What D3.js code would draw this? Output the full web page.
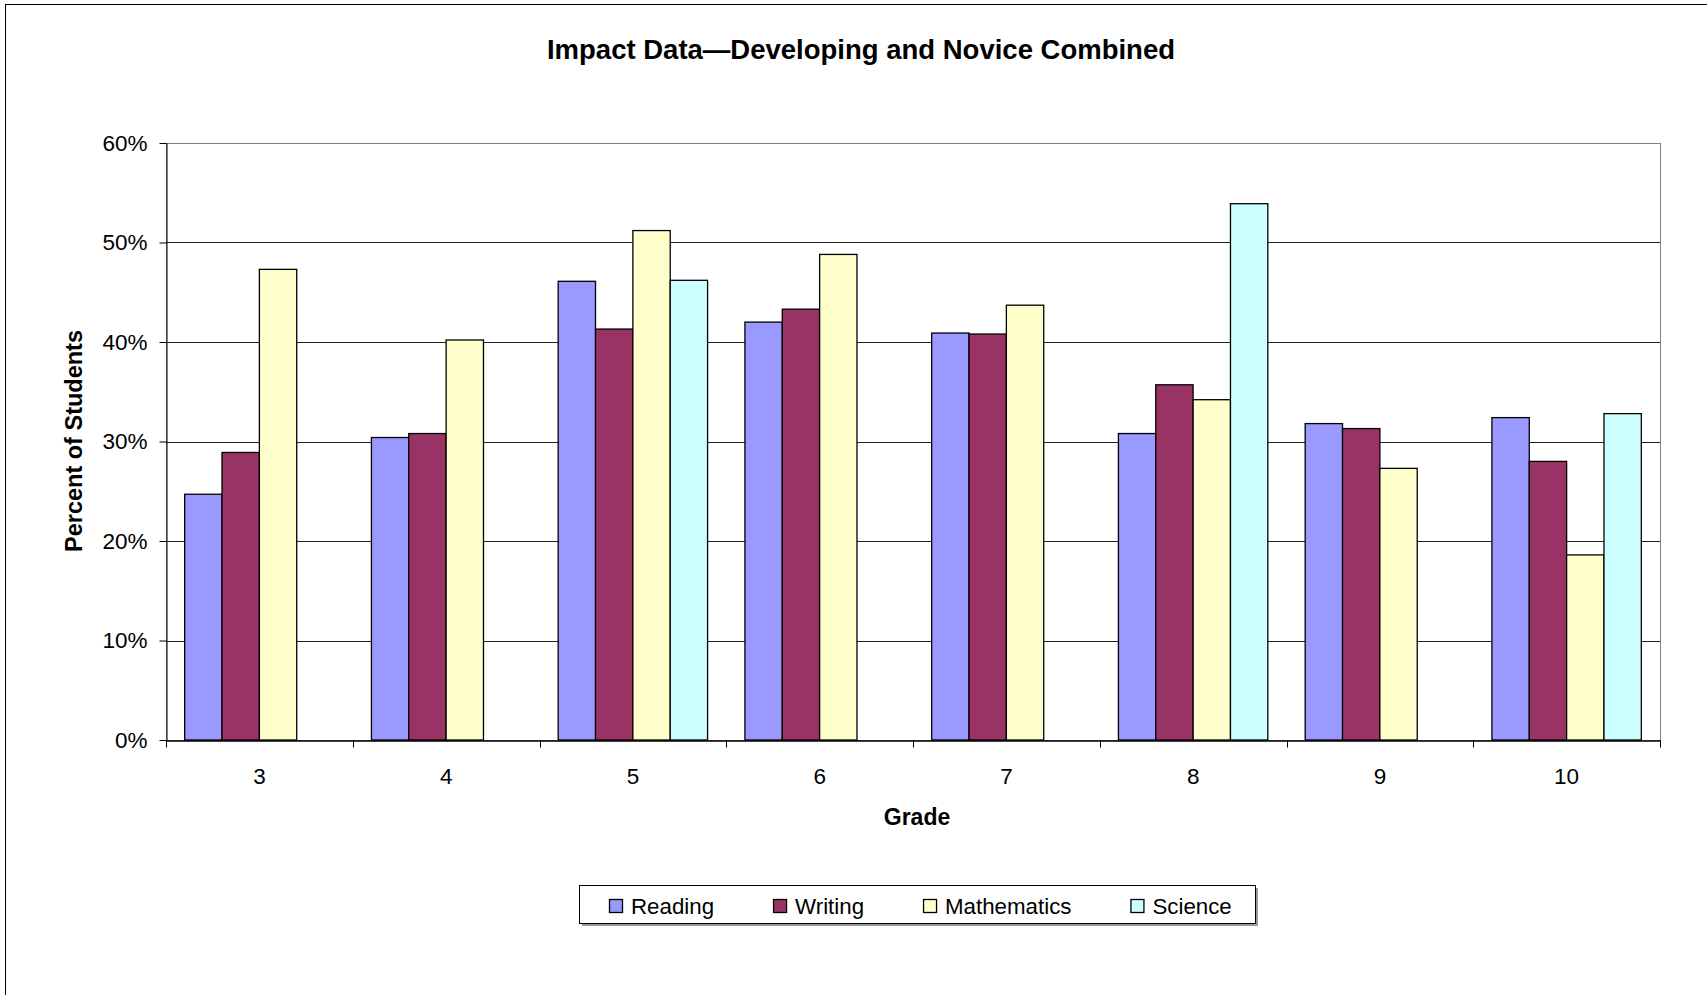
<!DOCTYPE html>
<html>
<head>
<meta charset="utf-8">
<script src="https://cdn.jsdelivr.net/npm/d3@7"></script>
<style>
  html, body { margin: 0; padding: 0; background: #fff; }
  svg { display: block; }
  text { font-family: Arial, "Liberation Sans", sans-serif; fill: #000; }
</style>
</head>
<body>
<svg id="chart" width="1707" height="995"></svg>
<script>
// ---- Data ----
const grades = ["3", "4", "5", "6", "7", "8", "9", "10"];
const seriesNames = ["Reading", "Writing", "Mathematics", "Science"];
const seriesColors = ["#9999FF", "#993366", "#FFFFCC", "#CCFFFF"];
const reading     = [24.7, 30.4, 46.1, 42.0, 40.9, 30.8, 31.8, 32.4];
const writing     = [28.9, 30.8, 41.3, 43.3, 40.8, 35.7, 31.3, 28.0];
const mathematics = [47.3, 40.2, 51.2, 48.8, 43.7, 34.2, 27.3, 18.6];
const science     = [null, null, 46.2, null, null, 53.9, null, 32.8];
const yTicks = [0, 10, 20, 30, 40, 50, 60];
const titleText = "Impact Data\u2014Developing and Novice Combined";
const xTitle = "Grade";
const yTitle = "Percent of Students";

const seriesValues = [reading, writing, mathematics, science];

// ---- Layout ----
const svg = d3.select("#chart");
const plot = { left: 166, right: 1660, top: 143, bottom: 740 };

svg.append("rect").attr("x", 0).attr("y", 0).attr("width", 1707).attr("height", 995).attr("fill", "#fff");
// outer chart border (extends past the visible frame on right/bottom)
svg.append("rect").attr("x", 5.5).attr("y", 4.5).attr("width", 1800).attr("height", 1200)
  .attr("fill", "none").attr("stroke", "#000").attr("stroke-width", 1);

const x0 = d3.scaleBand().domain(grades).range([plot.left, plot.right]).paddingInner(0).paddingOuter(0);
const bw = x0.bandwidth();
const x1 = d3.scaleBand().domain(seriesNames).range([bw * 0.1, bw * 0.9]).padding(0);
const y = d3.scaleLinear().domain([0, 60]).range([plot.bottom, plot.top]);

// plot area border
svg.append("rect")
  .attr("x", plot.left + 0.5).attr("y", y(60) + 0.5)
  .attr("width", plot.right - plot.left).attr("height", plot.bottom - y(60))
  .attr("fill", "none").attr("stroke", "#808080").attr("stroke-width", 1);

// gridlines
svg.append("g").selectAll("line").data(yTicks.filter(d => d > 0 && d < 60)).join("line")
  .attr("x1", plot.left).attr("x2", plot.right)
  .attr("y1", d => Math.round(y(d)) + 0.5).attr("y2", d => Math.round(y(d)) + 0.5)
  .attr("stroke", "#222").attr("stroke-width", 1);

// bars
const bars = [];
grades.forEach((g, gi) => {
  seriesNames.forEach((s, si) => {
    const v = seriesValues[si][gi];
    if (v !== null) bars.push({ g, s, si, v });
  });
});
svg.append("g").selectAll("rect").data(bars).join("rect")
  .attr("x", d => x0(d.g) + x1(d.s))
  .attr("y", d => y(d.v))
  .attr("width", x1.bandwidth())
  .attr("height", d => y(0) - y(d.v))
  .attr("fill", d => seriesColors[d.si])
  .attr("stroke", "#000").attr("stroke-width", 1.3);

// y axis
const yAxis = d3.axisLeft(y).tickValues(yTicks).tickFormat(d => d + "%").tickSize(7).tickSizeOuter(0).tickPadding(12);
const gy = svg.append("g").attr("transform", `translate(${plot.left + 0.5},0)`).call(yAxis);
gy.selectAll("text").attr("font-size", 22.5).style("font-family", "Arial, 'Liberation Sans', sans-serif");
gy.selectAll("line").attr("stroke", "#000");
gy.select(".domain").attr("stroke", "#000");

// x axis
const xAxis = d3.axisBottom(x0).tickSize(0).tickPadding(28);
const gx = svg.append("g").attr("transform", `translate(0,${plot.bottom + 0.5})`).call(xAxis);
gx.selectAll("text").attr("font-size", 22.5).style("font-family", "Arial, 'Liberation Sans', sans-serif");
gx.select(".domain").attr("stroke", "#000").attr("stroke-width", 1.5);
// boundary ticks
const bounds = grades.map(g => x0(g)).concat([plot.right]);
gx.selectAll("line.bt").data(bounds).join("line").attr("class", "bt")
  .attr("x1", d => Math.round(d) + 0.5).attr("x2", d => Math.round(d) + 0.5)
  .attr("y1", 0).attr("y2", 7).attr("stroke", "#000");

// titles
svg.append("text").attr("x", 861).attr("y", 59).attr("text-anchor", "middle")
  .attr("font-size", 27.5).attr("font-weight", "bold").text(titleText);
svg.append("text").attr("x", 917).attr("y", 825).attr("text-anchor", "middle")
  .attr("font-size", 23).attr("font-weight", "bold").text(xTitle);
svg.append("text").attr("transform", "translate(82,441) rotate(-90)").attr("text-anchor", "middle")
  .attr("font-size", 23.5).attr("font-weight", "bold").text(yTitle);

// legend
const lg = svg.append("g");
lg.append("rect").attr("x", 582).attr("y", 888).attr("width", 676).attr("height", 38).attr("fill", "#999");
lg.append("rect").attr("x", 579.5).attr("y", 885.5).attr("width", 676).attr("height", 38)
  .attr("fill", "#fff").attr("stroke", "#000").attr("stroke-width", 1);
let lx = 609;
seriesNames.forEach((s, i) => {
  lg.append("rect").attr("x", lx + 0.5).attr("y", 899.5).attr("width", 13).attr("height", 13)
    .attr("fill", seriesColors[i]).attr("stroke", "#000").attr("stroke-width", 1.3);
  const t = lg.append("text").attr("x", lx + 22).attr("y", 914).attr("font-size", 22.3).text(s);
  lx = lx + 22 + t.node().getComputedTextLength() + 59;
});
</script>
</body>
</html>
